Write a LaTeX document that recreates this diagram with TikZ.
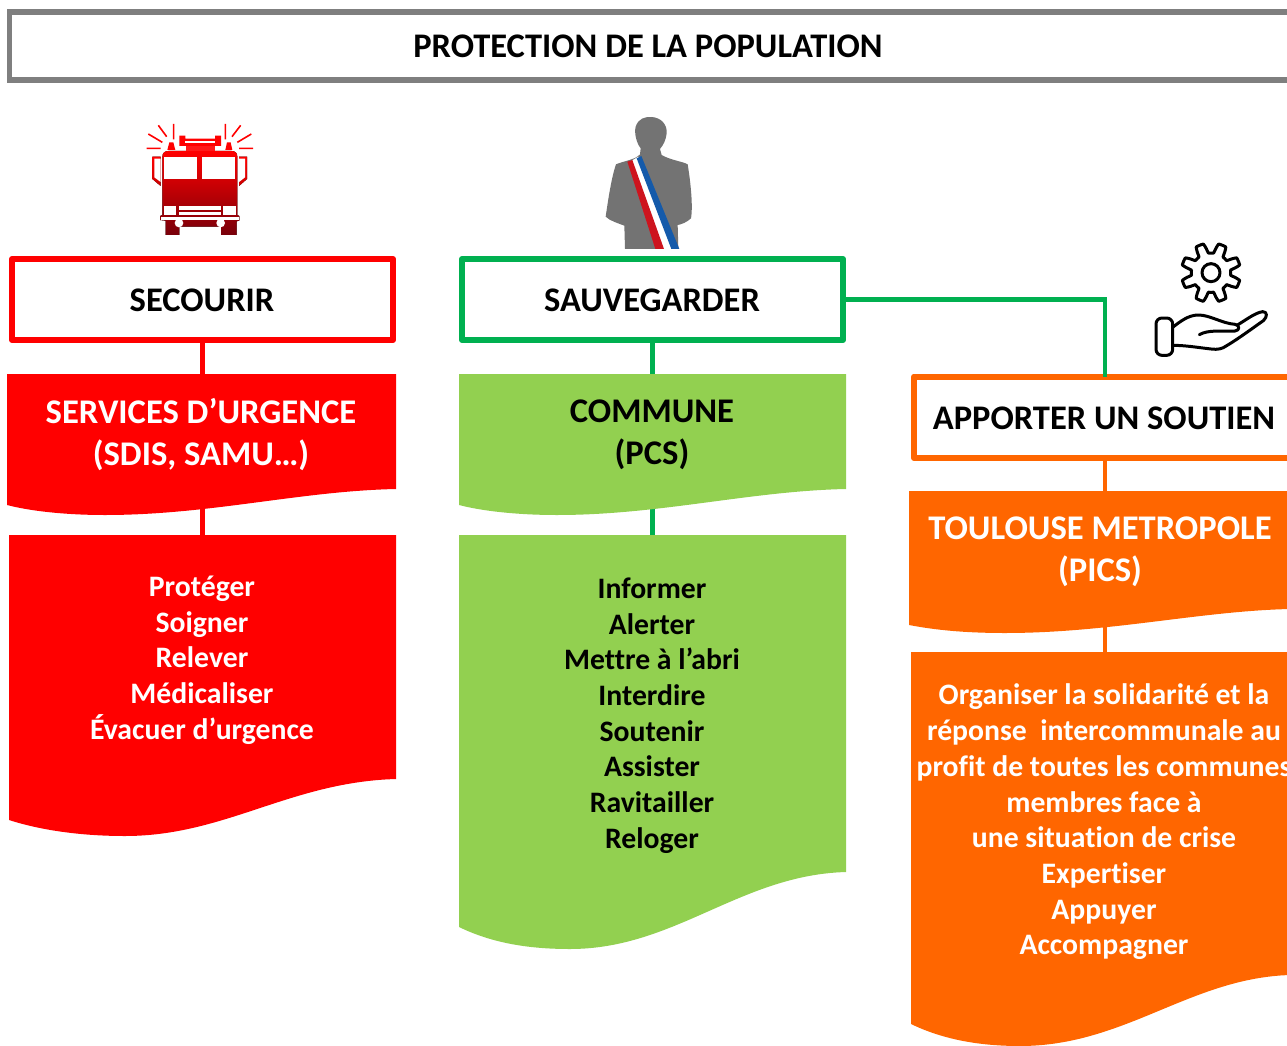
\documentclass[tikz,border=0pt]{standalone}
\usepackage{fontspec}
\setmainfont{Carlito}[BoldFont={Carlito Bold},Ligatures=NoCommon]
\definecolor{cRed}{RGB}{255,0,0}
\definecolor{cGreen}{RGB}{0,176,80}
\definecolor{cLime}{RGB}{146,208,80}
\definecolor{cOrange}{RGB}{255,102,0}
\definecolor{cGray}{RGB}{127,127,127}
\definecolor{cMan}{RGB}{115,115,115}
\definecolor{cBlue}{RGB}{20,90,170}
\definecolor{cFlag}{RGB}{205,20,30}
\definecolor{cDark}{RGB}{120,0,10}
\tikzset{
  box/.style={draw,fill=white,line width=6pt,line join=round,inner sep=0pt,outer sep=0pt,anchor=north west,font=\fontsize{34.5}{40}\selectfont\bfseries,text=black},
  head/.style={align=center,inner sep=0pt,font=\fontsize{34.6}{42}\selectfont\bfseries},
  items/.style={align=center,inner sep=0pt,font=\fontsize{29.7}{35.7}\selectfont\bfseries},
  slot/.style={anchor=north west,inner sep=0pt,outer sep=0pt},
  link/.style={line width=4.2pt},
  icon/.style={draw=black,line width=3pt,line join=round,line cap=round,fill=none},
  win/.style={fill=white}
}
\begin{document}
\begin{tikzpicture}[x=1pt,y=-1pt]
\useasboundingbox (0,0) rectangle (1287,1046);
% anchors for the wave shapes
\node[slot,minimum width=389pt,minimum height=141pt] (svc) at (7,374) {};
\node[slot,minimum width=387pt,minimum height=301pt] (svcl) at (9,535) {};
\node[slot,minimum width=387pt,minimum height=141pt] (com) at (459,374) {};
\node[slot,minimum width=387pt,minimum height=414pt] (coml) at (459,535) {};
\node[slot,minimum width=392pt,minimum height=142pt] (tou) at (909,491) {};
\node[slot,minimum width=388pt,minimum height=394pt] (toul) at (911,652) {};
% title
\node[draw=cGray,fill=white,line width=5.5pt,outer sep=0pt,minimum width=1290pt,minimum height=68pt,anchor=north west,inner sep=0pt] (title) at (9.5,12) {};
\node[font=\fontsize{34.5}{40}\selectfont\bfseries,inner sep=0pt] (titletext) at (648,46) {PROTECTION DE LA POPULATION};
% boxes
\node[box,draw=cRed,minimum width=381pt,minimum height=81pt] (sec) at (12,259) {};
\node[box,draw=cGreen,minimum width=381pt,minimum height=81pt] (sau) at (462,259) {};
\node[box,draw=cOrange,minimum width=382pt,minimum height=81.5pt] (app) at (914,376.5) {};
\node[font=\fontsize{34.5}{40}\selectfont\bfseries,inner sep=0pt] (sect) at (202,300) {SECOURIR};
\node[font=\fontsize{34.5}{40}\selectfont\bfseries,inner sep=0pt] (saut) at (652,300) {SAUVEGARDER};
\node[font=\fontsize{34.5}{40}\selectfont\bfseries,inner sep=0pt] (appt) at (1104,418) {APPORTER UN SOUTIEN};
% connectors
\draw[link,cRed] (sec.south) -- (svc.center-|sec.south);
\draw[link,cRed] (svc.center-|sec.south) -- (svcl.north-|sec.south);
\draw[link,cGreen] (sau.south) -- (com.center-|sau.south);
\draw[link,cGreen] (com.center-|sau.south) -- (coml.north-|sau.south);
\draw[link,cGreen] (sau.east) -| (app.north-|1105,0);
\draw[link,cOrange] (app.south-|1105,0) -- (tou.center-|1105,0);
\draw[link,cOrange] (tou.center-|1105,0) -- (toul.north-|1105,0);
% wave shapes
\fill[cRed] (7,374) -- (396,374) -- (396,489) .. controls (300,491) and (210,515) .. (105,515) .. controls (65,515) and (30,511) .. (7,505) -- cycle;
\fill[cLime] (459,374) -- (846,374) -- (846,489) .. controls (750,491) and (660,515) .. (557,515) .. controls (517,515) and (482,511) .. (459,505) -- cycle;
\fill[cRed] (9,535) -- (396,535) -- (396,779) .. controls (290,782) and (225,836) .. (125,836) .. controls (80,836) and (40,830) .. (9,820) -- cycle;
\fill[cLime] (459,535) -- (846,535) -- (846,872) .. controls (740,875) and (675,949) .. (570,949) .. controls (525,949) and (490,942) .. (459,927) -- cycle;
\fill[cOrange] (909,491) -- (1290,491) -- (1290,609) .. controls (1200,611) and (1110,633) .. (1005,633) .. controls (965,633) and (935,630) .. (909,625) -- cycle;
\fill[cOrange] (911,652) -- (1290,652) -- (1290,975) .. controls (1190,978) and (1125,1046) .. (1020,1046) .. controls (975,1046) and (940,1038) .. (911,1024) -- cycle;
% texts
\node[head,white] (svct) at (201,435) {SERVICES D’URGENCE\\(SDIS, SAMU…)};
\node[head,black] (comt) at (652,435) {COMMUNE\\(PCS)};
\node[head,white] (tout) at (1100,552) {TOULOUSE METROPOLE\\(PICS)};
\node[items,white] (svclt) at (202,660) {Protéger\\Soigner\\Relever\\Médicaliser\\Évacuer d’urgence};
\node[items,black] (comlt) at (652,715.5) {Informer\\Alerter\\Mettre à l’abri\\Interdire\\Soutenir\\Assister\\Ravitailler\\Reloger};
\node[items,white] (toult) at (1104,822) {Organiser la solidarité et la\\réponse\ \ intercommunale au\\profit de toutes les communes\\membres face à\\une situation de crise\\Expertiser\\Appuyer\\Accompagner};
% fire engine
\begin{scope}[shift={(120,100)},scale=1/3]
  \fill[top color=cRed,bottom color=cDark]
    (127,170) .. controls (127,158) and (135,153) .. (145,153) -- (335,153) .. controls (345,153) and (352,158) .. (352,170)
    -- (352,345) -- (358,348) -- (358,362) -- (350,364) -- (350,405) -- (303,405) -- (303,380) -- (178,380) -- (178,405) -- (137,405) -- (137,362) -- (120,360) -- (120,348) -- (127,345) -- cycle;
  \fill[top color=cRed,bottom color=red!80!black] (97,170) -- (122,170) -- (122,258) -- (97,237) -- cycle;
  \fill[top color=cRed,bottom color=red!80!black] (381,170) -- (357,170) -- (357,258) -- (381,237) -- cycle;
  \fill[win] (103,176) -- (122,176) -- (122,246) -- (103,232) -- cycle;
  \fill[win] (375,176) -- (357,176) -- (357,246) -- (375,232) -- cycle;
  \fill[cRed] (178,107) -- (196,107) -- (196,116) -- (285,116) -- (285,107) -- (303,107) -- (303,138) -- (178,138) -- cycle;
  \fill[win] (196,124) rectangle (285,129);
  \fill[cRed] (142,150) -- (148,127) -- (160,127) -- (166,150) -- cycle;
  \fill[cRed] (316,150) -- (321,127) -- (332,127) -- (337,150) -- cycle;
  \fill[cRed!90!white] (198,138) rectangle (284,153);
  \fill[win] (133,170) rectangle (232,238);
  \fill[win] (246,170) rectangle (346,238);
  \fill[win] (132,318) rectangle (168,344);
  \fill[win] (310,318) rectangle (347,344);
  \fill[win] (176,318) rectangle (302,330);
  \fill[win] (176,335) rectangle (302,344);
  \fill[win] (122,350) rectangle (356,360);
  \fill[win] (177,369) circle (13);
  \fill[win] (302,369) circle (13);
  \draw[cRed,line width=1.6pt] (161,118) -- (161,72) (140,110) -- (115,76) (127,127) -- (85,102) (122,145) -- (80,145)
     (316,118) -- (316,72) (336,110) -- (362,76) (352,127) -- (394,102) (357,145) -- (399,145);
\end{scope}
% mayor
\begin{scope}[shift={(590,105)},scale=1/3]
  \fill[cMan] (137,65) .. controls (145,40) and (165,35) .. (185,36) .. controls (215,38) and (232,60) .. (230,85)
    .. controls (228,105) and (220,120) .. (210,132) -- (215,150) .. controls (240,165) and (280,170) .. (293,178)
    .. controls (300,220) and (310,300) .. (303,340) .. controls (290,352) and (275,358) .. (263,360) -- (265,432)
    -- (105,432) -- (103,362) .. controls (85,355) and (60,348) .. (47,335)
    .. controls (55,280) and (65,215) .. (78,178) .. controls (100,168) and (135,165) .. (150,148) -- (152,130)
    .. controls (140,115) and (132,85) .. (137,65) -- cycle;
  \fill[white] (125,167) -- (145,155) -- (248,432) -- (218,432) -- cycle;
  \fill[cFlag] (112,170) -- (127,165) -- (222,432) -- (196,432) -- cycle;
  \fill[cBlue] (140,160) -- (154,153) -- (268,432) -- (244,432) -- cycle;
\end{scope}
% gear and hand
\begin{scope}[shift={(1130,230)},scale=1/3]
  \draw[icon] plot[smooth cycle,samples=96,domain=0:356.25,variable=\t]
    ({243+(74+15*max(-1,min(1,2.2*cos(8*(\t-22.5)))))*cos(\t)},{128+(74+15*max(-1,min(1,2.2*cos(8*(\t-22.5)))))*sin(\t)});
  \draw[icon] (243,128) circle (27);
  \draw[icon,rounded corners=6pt] (78,264) rectangle (128,376);
  \draw[icon] (128,292) .. controls (150,275) and (175,255) .. (205,255) .. controls (240,255) and (275,280) .. (315,283)
     .. controls (330,285) and (330,302) .. (315,303) .. controls (280,305) and (235,298) .. (208,314);
  \draw[icon] (322,285) .. controls (345,272) and (375,248) .. (398,245) .. controls (412,245) and (413,260) .. (400,272)
     .. controls (360,300) and (320,330) .. (280,353) .. controls (265,360) and (250,358) .. (235,356)
     .. controls (200,352) and (165,346) .. (128,346);
\end{scope}
\end{tikzpicture}
\end{document}
